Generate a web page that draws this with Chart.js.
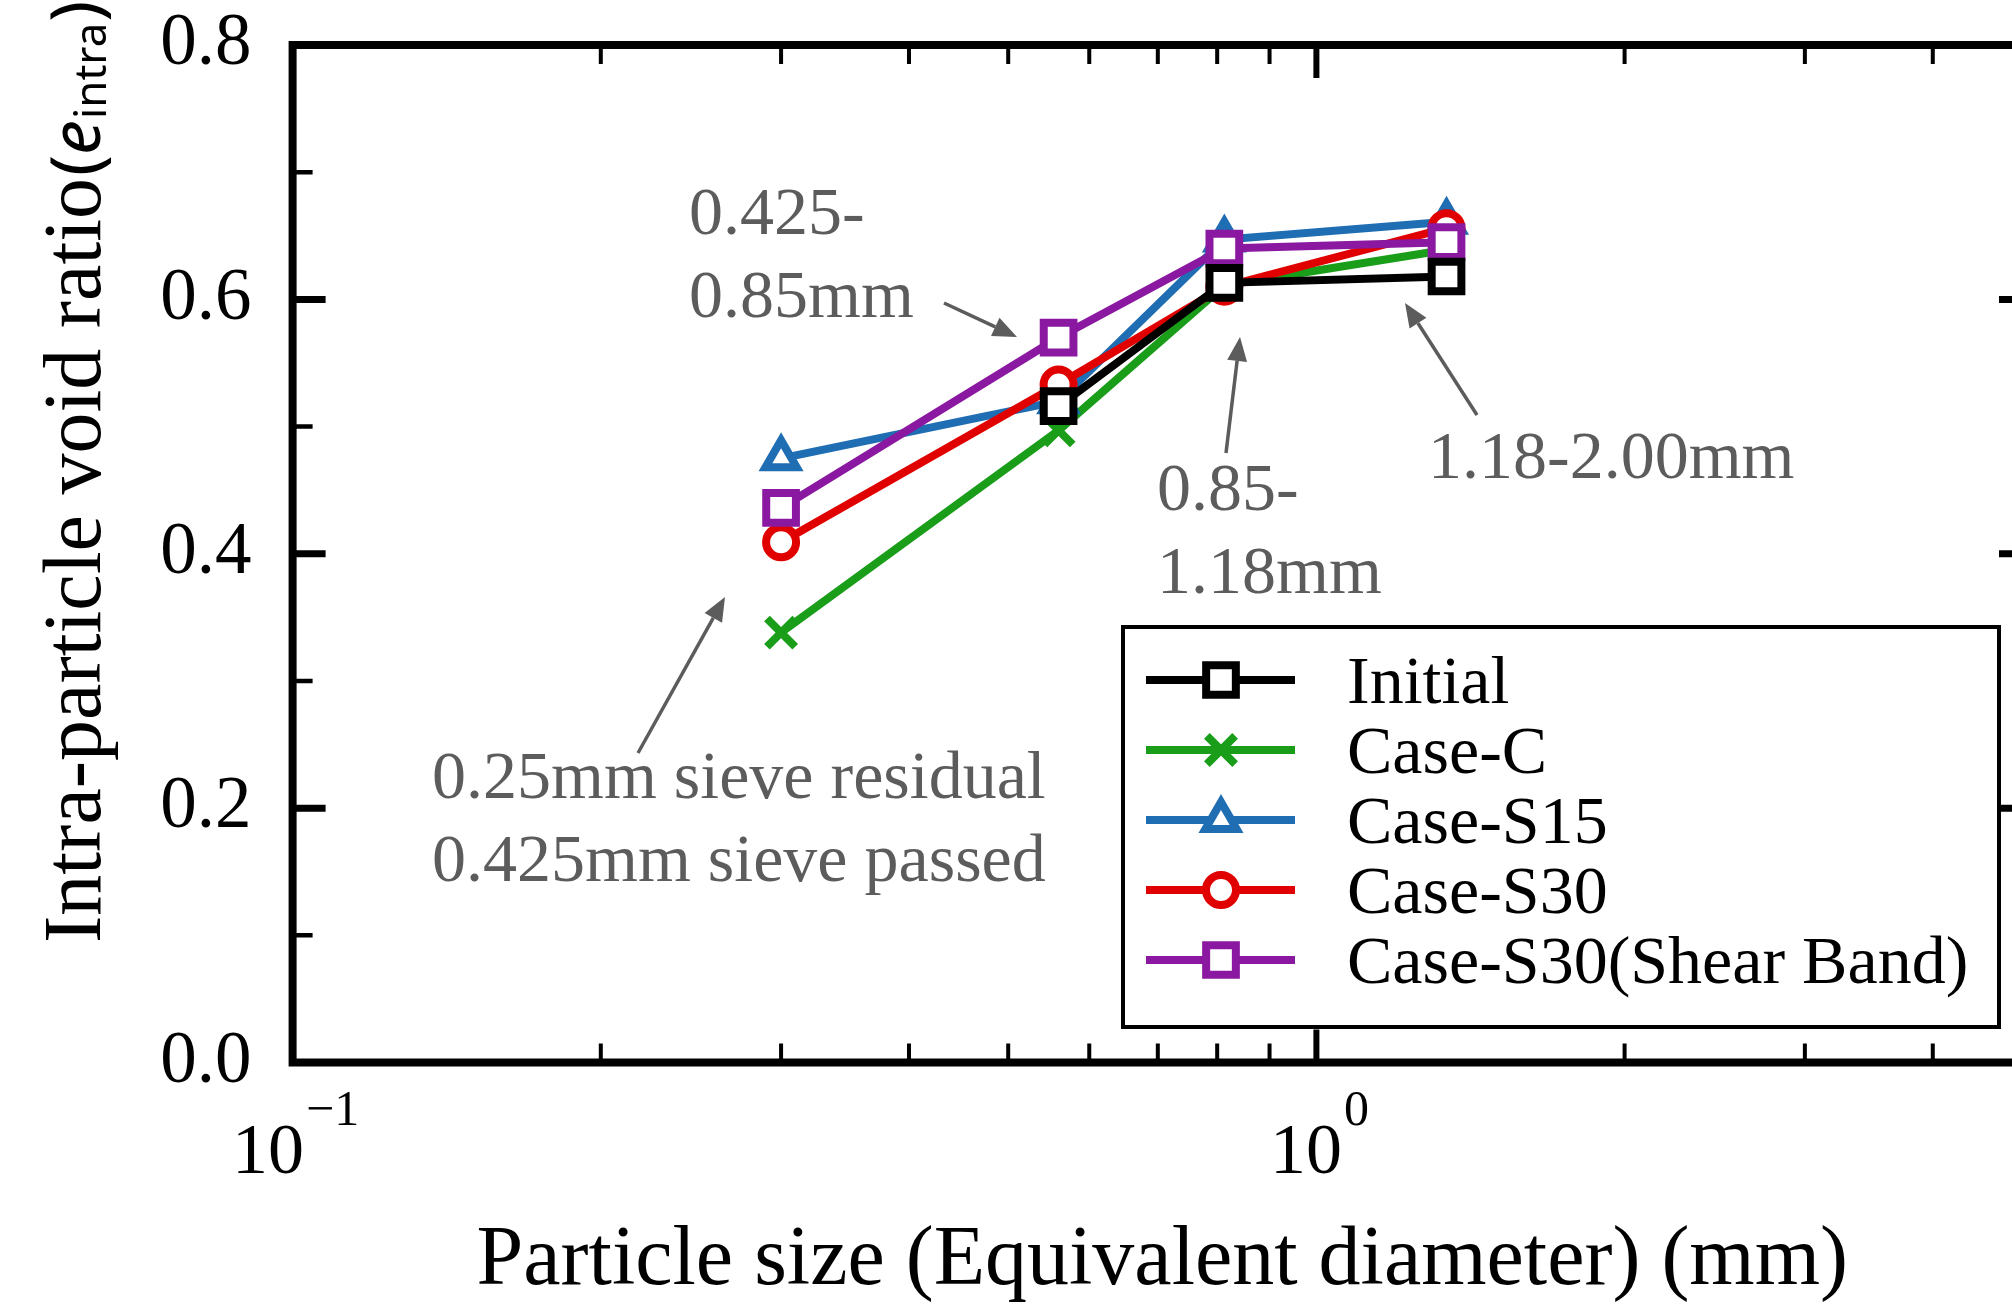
<!DOCTYPE html>
<html>
<head>
<meta charset="utf-8">
<script src="https://cdn.jsdelivr.net/npm/chart.js@4.4.1/dist/chart.umd.min.js"></script>
<style>
    html, body { margin: 0; padding: 0; background: #fff; overflow: hidden; }
    canvas { display: block; }
</style>
</head>
<body>
<!-- canvas is a bit wider than the window: the right frame sits just off-screen like in the figure -->
<canvas id="myChart" width="2032" height="1305"></canvas>
<script>
// particle size (mm) of each sieve fraction
var sizes = [0.3, 0.56, 0.813, 1.34];

// intra-particle void ratio per case
var initialVals   = [null, 0.516, 0.613, 0.618];
var caseCVals     = [0.338, 0.497, 0.611, 0.639];
var caseS15Vals   = [0.475, 0.520, 0.647, 0.661];
var caseS30Vals   = [0.409, 0.533, 0.610, 0.656];
var shearBandVals = [0.436, 0.570, 0.640, 0.645];

var seriesNames = ['Initial', 'Case-C', 'Case-S15', 'Case-S30', 'Case-S30(Shear Band)'];

// tick values
var yMajorTicks = [0, 0.2, 0.4, 0.6, 0.8];
var yMinorTicks = [0.1, 0.3, 0.5, 0.7];
var xMajorTicks = [0.1, 1];
var xMinorTicks = [0.2, 0.3, 0.4, 0.5, 0.6, 0.7, 0.8, 0.9, 2, 3, 4];

var serif = "'Liberation Serif', 'Times New Roman', serif";
var sans = "'Noto Sans', 'DejaVu Sans', sans-serif";
var grey = '#5c5c5c';

var styles = [
    { color: '#000000', point: 'rect',     radius: 21, order: 0 },
    { color: '#1a9e1a', point: 'crossRot', radius: 20, order: 4 },
    { color: '#1f6db2', point: 'triangle', radius: 18, order: 3 },
    { color: '#e00000', point: 'circle',   radius: 15, order: 2 },
    { color: '#8a18a0', point: 'rect',     radius: 21, order: 1 }
];

function toPoints(vals) {
    return sizes.map(function(s, i) { return { x: s, y: vals[i] }; });
}

var allVals = [initialVals, caseCVals, caseS15Vals, caseS30Vals, shearBandVals];
var datasets = allVals.map(function(vals, i) {
    var st = styles[i];
    return {
        label: seriesNames[i],
        data: toPoints(vals),
        borderColor: st.color,
        backgroundColor: '#fff',
        borderWidth: 8,
        pointStyle: st.point,
        pointRadius: st.radius,
        pointHoverRadius: st.radius,
        pointBorderWidth: 8,
        pointHoverBorderWidth: 8,
        pointBackgroundColor: '#fff',
        pointBorderColor: st.color,
        order: st.order,
        tension: 0,
        fill: false
    };
});

// text notes with arrows (canvas pixels)
var notes = [
    { lines: ['0.425-', '0.85mm'], x: 689, y: 234, arrow: [944, 303, 1017, 337] },
    { lines: ['0.85-', '1.18mm'], x: 1157, y: 510, arrow: [1226, 453, 1240, 337] },
    { lines: ['1.18-2.00mm'], x: 1428, y: 478, arrow: [1477, 415, 1405, 303] },
    { lines: ['0.25mm sieve residual', '0.425mm sieve passed'], x: 432, y: 798, arrow: [638, 753, 725, 597] }
];

function drawArrow(ctx, x1, y1, x2, y2) {
    var ang = Math.atan2(y2 - y1, x2 - x1);
    var hl = 24, hw = 10;
    var bx = x2 - hl * Math.cos(ang), by = y2 - hl * Math.sin(ang);
    ctx.beginPath();
    ctx.moveTo(x1, y1);
    ctx.lineTo(bx, by);
    ctx.stroke();
    ctx.beginPath();
    ctx.moveTo(x2, y2);
    ctx.lineTo(bx + hw * Math.sin(ang), by - hw * Math.cos(ang));
    ctx.lineTo(bx - hw * Math.sin(ang), by + hw * Math.cos(ang));
    ctx.closePath();
    ctx.fill();
}

var decorPlugin = {
    id: 'decor',
    afterDraw: function(chart) {
        var ctx = chart.ctx;
        var a = chart.chartArea;
        var xs = chart.scales.x, ys = chart.scales.y;
        ctx.save();
        ctx.strokeStyle = '#000';
        ctx.lineCap = 'butt';

        // inward ticks on all four sides
        function xTick(v, len, w) {
            var px = xs.getPixelForValue(v);
            ctx.lineWidth = w;
            ctx.beginPath();
            ctx.moveTo(px, a.bottom); ctx.lineTo(px, a.bottom - len);
            ctx.moveTo(px, a.top); ctx.lineTo(px, a.top + len);
            ctx.stroke();
        }
        function yTick(v, len, w) {
            var py = ys.getPixelForValue(v);
            ctx.lineWidth = w;
            ctx.beginPath();
            ctx.moveTo(a.left, py); ctx.lineTo(a.left + len, py);
            ctx.moveTo(a.right, py); ctx.lineTo(a.right - len, py);
            ctx.stroke();
        }
        xMajorTicks.forEach(function(v) { xTick(v, 33, 6); });
        xMinorTicks.forEach(function(v) { xTick(v, 19, 4); });
        yMajorTicks.forEach(function(v) { yTick(v, 33, 7); });
        yMinorTicks.forEach(function(v) { yTick(v, 20, 4.5); });

        // frame
        ctx.lineWidth = 8;
        ctx.strokeRect(a.left, a.top, a.right - a.left, a.bottom - a.top);

        // x tick labels 10^n
        ctx.fillStyle = '#000';
        ctx.textBaseline = 'alphabetic';
        ctx.textAlign = 'left';
        xMajorTicks.forEach(function(v) {
            var e = Math.round(Math.log10(v));
            var sup = e < 0 ? '\u2212' + (-e) : String(e);
            ctx.font = '72px ' + serif;
            var w1 = ctx.measureText('10').width;
            ctx.font = '50px ' + serif;
            var w2 = ctx.measureText(sup).width;
            var left = xs.getPixelForValue(v) - (w1 + w2) / 2 + 2;
            ctx.font = '72px ' + serif;
            ctx.fillText('10', left, a.bottom + 110);
            ctx.font = '50px ' + serif;
            ctx.fillText(sup, left + w1 + 2, a.bottom + 62);
        });

        // y axis title with subscript
        ctx.save();
        ctx.translate(100, 943);
        ctx.rotate(-Math.PI / 2);
        ctx.font = '82px ' + serif;
        var t1 = 'Intra-particle void ratio';
        ctx.fillText(t1, 0, 0);
        var cx = ctx.measureText(t1).width + 2;
        ctx.font = '70px ' + sans;
        ctx.fillText('(', cx, 0);
        cx += ctx.measureText('(').width;
        ctx.font = 'italic 70px ' + sans;
        ctx.fillText('e', cx, 0);
        cx += ctx.measureText('e').width + 1;
        ctx.font = '44px ' + sans;
        ctx.fillText('intra', cx, 6);
        cx += ctx.measureText('intra').width + 1;
        ctx.font = '70px ' + sans;
        ctx.fillText(')', cx, 0);
        ctx.restore();

        // notes
        ctx.fillStyle = grey;
        ctx.strokeStyle = grey;
        ctx.font = '68px ' + serif;
        notes.forEach(function(n) {
            n.lines.forEach(function(line, i) {
                ctx.fillText(line, n.x, n.y + i * 83);
            });
            ctx.lineWidth = 3.5;
            drawArrow(ctx, n.arrow[0], n.arrow[1], n.arrow[2], n.arrow[3]);
        });

        // legend
        var lx = 1123, ly = 627, lw = 876, lh = 400;
        ctx.fillStyle = '#fff';
        ctx.fillRect(lx, ly, lw, lh);
        ctx.strokeStyle = '#000';
        ctx.lineWidth = 4;
        ctx.strokeRect(lx, ly, lw, lh);
        seriesNames.forEach(function(name, i) {
            var st = styles[i];
            var rowY = 680 + i * 70;
            ctx.strokeStyle = st.color;
            ctx.lineWidth = 8;
            ctx.beginPath();
            ctx.moveTo(1146, rowY);
            ctx.lineTo(1295, rowY);
            ctx.stroke();
            ctx.fillStyle = '#fff';
            Chart.helpers.drawPoint(ctx, { pointStyle: st.point, radius: st.radius, rotation: 0, borderWidth: 8 }, 1221, rowY);
            ctx.fillStyle = '#000';
            ctx.font = '68px ' + serif;
            ctx.fillText(name, 1347, rowY + 23);
        });
        ctx.restore();
    }
};

var ctx = document.getElementById('myChart').getContext('2d');
var chart = new Chart(ctx, {
    type: 'line',
    data: { datasets: datasets },
    options: {
        responsive: false,
        animation: false,
        devicePixelRatio: 1,
        events: [],
        layout: { autoPadding: false, padding: { left: 0, top: 45, right: 0, bottom: 0 } },
        plugins: {
            legend: { display: false },
            tooltip: { enabled: false }
        },
        scales: {
            x: {
                type: 'logarithmic',
                min: 0.1,
                max: 5,
                ticks: { display: false },
                grid: { display: false },
                border: { display: false },
                title: {
                    display: true,
                    text: 'Particle size (Equivalent diameter) (mm)',
                    color: '#000',
                    font: { family: serif, size: 84, lineHeight: 1 },
                    padding: { top: 0, bottom: 1 }
                },
                afterFit: function(scale) {
                    scale.height = 242.5;
                    scale.paddingLeft = 0;
                    scale.paddingRight = 0;
                }
            },
            y: {
                min: 0,
                max: 0.8,
                afterBuildTicks: function(scale) {
                    scale.ticks = yMajorTicks.map(function(v) { return { value: v }; });
                },
                ticks: {
                    color: '#000',
                    padding: 33,
                    font: { family: serif, size: 73, lineHeight: 1 },
                    callback: function(v) { return Number(v).toFixed(1); }
                },
                grid: { display: false },
                border: { display: false },
                afterFit: function(scale) {
                    scale.width = 292.6;
                    scale.paddingTop = 0;
                    scale.paddingBottom = 0;
                }
            }
        }
    },
    plugins: [decorPlugin]
});
</script>
</body>
</html>
